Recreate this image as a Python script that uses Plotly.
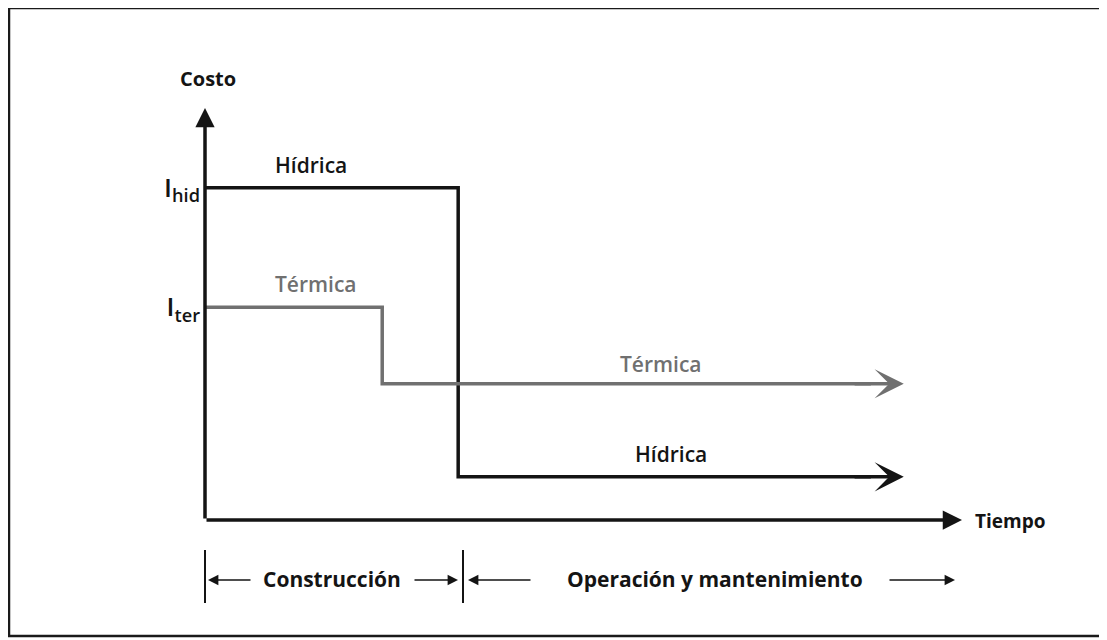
import plotly.graph_objects as go

# step curves (time units, cost units)
t_hid = [0, 10, 10, 26.3]
c_hid = [100, 100, 13, 13]
t_ter = [0, 7, 7, 26.3]
c_ter = [64, 64, 41, 41]
t_end = 27.6          # tip of the operation arrows
t_axis_end = 29.9
c_axis_end = 124

tick_vals = [100, 64]
tick_text = ["I<sub>hid</sub>", "I<sub>ter</sub>"]

BLACK = "#141414"
GRAY = "#707070"
FONT = "Open Sans"

# plot box in page pixels (the page has an 8px body margin)
L, R, T, B = 205, 962, 108, 520


def px(x):
    return (x - L) / (R - L)


def py(y):
    return (B - y) / (B - T)


def label(x, y, txt, size=20, weight=700, color=BLACK):
    return dict(x=px(x), y=py(y), xref="paper", yref="paper", text=txt, showarrow=False,
                xanchor="center", yanchor="middle", font=dict(size=size, weight=weight, color=color))


fig = go.Figure()
fig.add_trace(go.Scatter(x=t_hid, y=c_hid, mode="lines", line=dict(color=BLACK, width=3.5),
                         cliponaxis=False, showlegend=False, hoverinfo="skip"))
fig.add_trace(go.Scatter(x=t_ter, y=c_ter, mode="lines", line=dict(color=GRAY, width=3.5),
                         cliponaxis=False, showlegend=False, hoverinfo="skip"))

ann = []
# arrow heads of the curves
for c, col in [(c_hid[-1], BLACK), (c_ter[-1], GRAY)]:
    ann.append(dict(x=t_end, y=c, ax=t_end - 2.0, ay=c, xref="x", yref="y", axref="x", ayref="y",
                    showarrow=True, arrowhead=3, arrowsize=1.35, arrowwidth=3.6, arrowcolor=col, text=""))
# axes arrows
ann.append(dict(x=t_axis_end, y=0, ax=0, ay=0, xref="x", yref="y", axref="x", ayref="y",
                showarrow=True, arrowhead=2, arrowsize=1.1, arrowwidth=3.5, arrowcolor=BLACK, text=""))
ann.append(dict(x=0, y=c_axis_end, ax=0, ay=0, xref="x", yref="y", axref="x", ayref="y",
                showarrow=True, arrowhead=2, arrowsize=1.1, arrowwidth=3.5, arrowcolor=BLACK, text=""))

# curve labels
for x, y, txt, col in [(4.2, 106.8, "Hídrica", BLACK), (4.4, 71, "Térmica", GRAY),
                       (18.0, 47, "Térmica", GRAY), (18.4, 20, "Hídrica", BLACK)]:
    ann.append(dict(x=x, y=y, text=txt, xref="x", yref="y", showarrow=False,
                    font=dict(color=col, size=21, weight=600)))

# axis titles
ann.append(label(208, 79, "Costo"))
ann.append(label(1010, 521, "Tiempo", size=19))

# phase markers below the time axis
for xt in [205, 463]:
    fig.add_shape(type="line", xref="paper", yref="paper", x0=px(xt), x1=px(xt), y0=py(550), y1=py(603),
                  line=dict(color=BLACK, width=2))
ann.append(label(332, 579, "Construcción", size=21))
ann.append(label(715, 579, "Operación y mantenimiento", size=21))
for tip, tail in [(208, 252), (458, 413), (468, 532), (955, 888)]:
    ann.append(dict(x=px(tip), y=py(580), xref="paper", yref="paper", ax=tail - tip, ay=0,
                    showarrow=True, arrowhead=2, arrowsize=1.3, arrowwidth=1.6, arrowcolor=BLACK, text=""))

# outer frame
fig.add_shape(type="rect", xref="paper", yref="paper",
              x0=px(9), x1=px(1103), y0=py(636), y1=py(8),
              line=dict(color="#1a1a1a", width=2.5))

fig.update_layout(
    width=1099, height=632,
    margin=dict(l=L - 8, r=1107 - R, t=T - 8, b=640 - B),
    paper_bgcolor="white", plot_bgcolor="white",
    font=dict(family=FONT, color=BLACK),
    annotations=ann,
    xaxis=dict(range=[0, t_axis_end], showgrid=False, zeroline=False, showline=False,
               showticklabels=False, ticks=""),
    yaxis=dict(range=[0, c_axis_end], showgrid=False, zeroline=False, showline=False,
               tickvals=tick_vals, ticktext=tick_text, ticks="", ticklabelstandoff=4,
               tickfont=dict(size=26, color=BLACK, family=FONT, weight=600)),
)
fig.write_html("out.html")
